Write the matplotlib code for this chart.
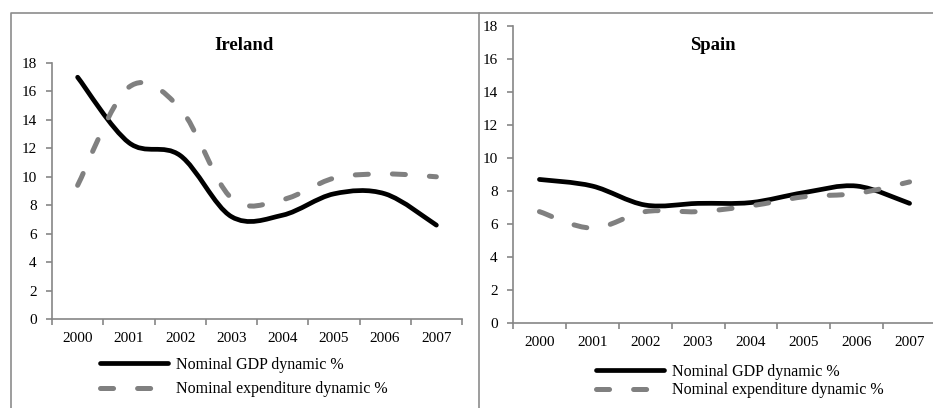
import numpy as np
import matplotlib
matplotlib.use("Agg")
import matplotlib.pyplot as plt
from matplotlib.path import Path
from matplotlib.patches import PathPatch
from matplotlib.lines import Line2D
from matplotlib.ticker import FixedLocator, NullFormatter

plt.rcParams['font.family'] = ['Liberation Serif', 'DejaVu Serif']
plt.rcParams['lines.scale_dashes'] = False

years = ['2000', '2001', '2002', '2003', '2004', '2005', '2006', '2007']
ireland_gdp = [17.0, 12.4, 11.5, 7.2, 7.3, 8.8, 8.8, 6.6]
ireland_exp = [9.4, 16.3, 14.8, 8.5, 8.4, 9.9, 10.2, 10.0]
spain_gdp = [8.7, 8.3, 7.15, 7.25, 7.3, 7.9, 8.3, 7.25]
spain_exp = [6.75, 5.75, 6.75, 6.75, 7.1, 7.65, 7.85, 8.55]
series_labels = ['Nominal GDP dynamic %', 'Nominal expenditure dynamic %']
y_ticks = [0, 2, 4, 6, 8, 10, 12, 14, 16, 18]

W, H = 933, 408
fig = plt.figure(figsize=(W / 100, H / 100), dpi=100)

AX_COLOR = '#868686'
GDP_COLOR = '#000000'
EXP_COLOR = '#808080'
DASH = (0, (9.4, 17.3))


def smooth_path(xs, ys):
    pts = np.column_stack([xs, ys]).astype(float)
    n = len(pts)
    verts = [pts[0]]
    codes = [Path.MOVETO]
    for i in range(n - 1):
        p0 = pts[i - 1] if i > 0 else pts[i]
        p1 = pts[i]
        p2 = pts[i + 1]
        p3 = pts[i + 2] if i + 2 < n else pts[i + 1]
        c1 = p1 + (p2 - p0) / 6.0
        c2 = p2 - (p3 - p1) / 6.0
        verts += [c1, c2, p2]
        codes += [Path.CURVE4] * 3
    return Path(verts, codes)


def px_rect(x0, y0, x1, y1):
    return [x0 / W, 1 - y1 / H, (x1 - x0) / W, (y1 - y0) / H]


def make_panel(rect, gdp, exp, title, title_xy, leg_xy, leg_spacing, ylab_pad):
    ax = fig.add_axes(rect)
    x = np.arange(len(years))
    ax.set_xlim(-0.5, len(years) - 0.5)
    ax.set_ylim(0, 18)
    for vals, col, ls, lw in [(gdp, GDP_COLOR, '-', 3.4), (exp, EXP_COLOR, DASH, 3.6)]:
        patch = PathPatch(smooth_path(x, vals), fill=False, edgecolor=col,
                          linewidth=lw, linestyle=ls, capstyle='round',
                          joinstyle='round', clip_on=False)
        ax.add_patch(patch)
    # axes styling
    for s in ['top', 'right']:
        ax.spines[s].set_visible(False)
    for s in ['left', 'bottom']:
        ax.spines[s].set_color(AX_COLOR)
        ax.spines[s].set_linewidth(1.2)
    ax.set_yticks(y_ticks)
    ax.set_yticklabels([str(v) for v in y_ticks])
    ax.tick_params(axis='y', direction='out', length=4, width=1.2, color=AX_COLOR,
                   labelsize=11, pad=ylab_pad, labelcolor='black')
    ax.xaxis.set_major_locator(FixedLocator(np.arange(-0.5, len(years), 1.0)))
    ax.xaxis.set_major_formatter(NullFormatter())
    ax.set_xticks(x, minor=True)
    ax.set_xticklabels(years, minor=True)
    ax.tick_params(axis='x', which='major', direction='out', length=4, width=1.2,
                   color=AX_COLOR)
    ax.tick_params(axis='x', which='minor', length=0, labelsize=11, pad=9,
                   labelcolor='black')
    fig.text(title_xy[0] / W, 1 - title_xy[1] / H, title, ha='center', va='center',
             fontsize=13.5, fontweight='bold')
    handles = [Line2D([], [], color=GDP_COLOR, lw=3.4, solid_capstyle='round'),
               Line2D([], [], color=EXP_COLOR, lw=3.6, linestyle=DASH,
                      dash_capstyle='round')]
    ax.legend(handles, series_labels, loc='upper left',
              bbox_to_anchor=(leg_xy[0] / W, 1 - leg_xy[1] / H),
              bbox_transform=fig.transFigure, frameon=False, fontsize=11.5,
              handlelength=4.25, handletextpad=0.5, borderpad=0,
              borderaxespad=0, labelspacing=leg_spacing)
    return ax


make_panel(px_rect(52, 63, 462, 319), ireland_gdp, ireland_exp, 'Ireland',
           (244, 45), (100, 357), 0.52, 7)
make_panel(px_rect(513, 26, 936, 323), spain_gdp, spain_exp, 'Spain',
           (713, 45), (596, 364), 0.15, 7)

# panel frames
frame_kw = dict(color='#8c8c8c', lw=1.2, transform=fig.transFigure)
fig.add_artist(Line2D([10.5 / W, 10.5 / W, 479 / W], [0, 1 - 13 / H, 1 - 13 / H], **frame_kw))
fig.add_artist(Line2D([479 / W, 479 / W, 1], [0, 1 - 12.5 / H, 1 - 12.5 / H], **frame_kw))

fig.savefig('out.png', dpi=100)
